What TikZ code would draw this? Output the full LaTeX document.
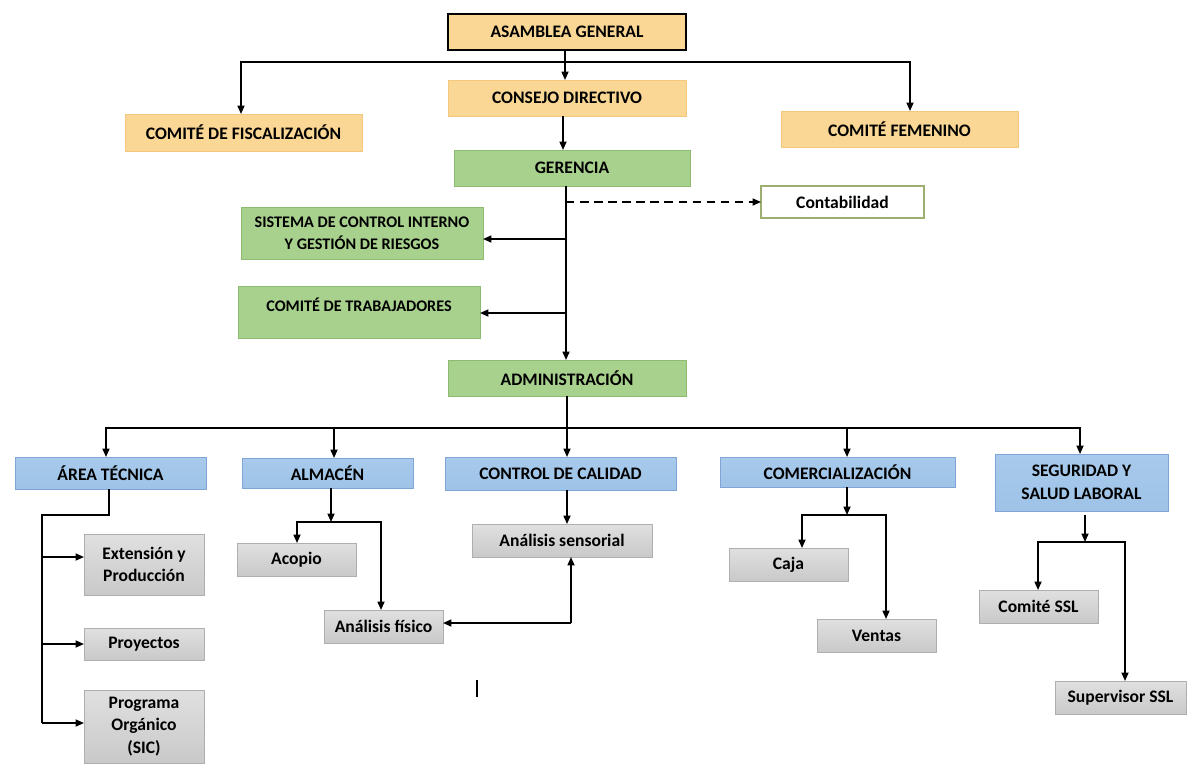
\documentclass[tikz,border=0pt]{standalone}
\usepackage{fontspec}
\setmainfont{Carlito}
\usetikzlibrary{arrows.meta,calc}
\definecolor{orF}{HTML}{FAD794}
\definecolor{orB}{HTML}{F3C87E}
\definecolor{grF}{HTML}{A9D18E}
\definecolor{grB}{HTML}{8DBB70}
\definecolor{blF}{HTML}{9DC3E6}
\definecolor{blT}{HTML}{A8CAEC}
\definecolor{blB}{HTML}{7FA6D6}
\definecolor{gyT}{HTML}{E0E0E0}
\definecolor{gyF}{HTML}{C9C9C9}
\definecolor{gyB}{HTML}{AFAFAF}
\definecolor{olB}{HTML}{9DAF6F}
\tikzset{
  x=0.025cm, y=-0.025cm,
  base/.style={rectangle, inner sep=0pt, outer sep=0pt, align=center,
    font=\fontsize{12.5}{16}\selectfont\bfseries, text=black},
  orbox/.style={base, fill=orF, draw=orB, line width=0.6pt},
  topbox/.style={base, fill=orF, draw=black, line width=1.4pt},
  grbox/.style={base, fill=grF, draw=grB, line width=0.6pt},
  smallgr/.style={grbox, font=\fontsize{11.5}{15.5}\selectfont\bfseries},
  whbox/.style={base, fill=white, draw=olB, line width=0.8pt},
  blbox/.style={base, top color=blT, bottom color=blF, draw=blB, line width=0.6pt},
  gybox/.style={base, top color=gyT, bottom color=gyF, draw=gyB, line width=0.6pt},
  ln/.style={draw, line width=1.1pt},
  arr/.style={draw, line width=1.1pt, -{Triangle[length=6pt,width=5pt]}},
}
\newcommand\bx[6]{\node[#1, minimum width={(#4-#2)*0.025cm}, minimum height={(#5-#3)*0.025cm}] (#6) at ({(#2+#4)/2},{(#3+#5)/2})}
\begin{document}
\begin{tikzpicture}
\useasboundingbox (0,0) rectangle (1200,778);
% top level
\bx{topbox}{448}{14}{686}{50}{asam}{ASAMBLEA GENERAL};
\bx{orbox}{448}{80}{686}{116}{cons}{CONSEJO DIRECTIVO};
\bx{orbox}{125}{114}{362}{151}{fisc}{COMITÉ DE FISCALIZACIÓN};
\bx{orbox}{781}{111}{1018}{147}{feme}{COMITÉ FEMENINO};
\bx{grbox}{454}{150}{690}{186}{gere}{GERENCIA};
\bx{whbox}{761}{186}{924}{218}{cont}{Contabilidad};
\bx{smallgr}{241}{207}{483}{259}{sci}{SISTEMA DE CONTROL INTERNO\\Y GESTIÓN DE RIESGOS};
\node[smallgr, minimum width={(480-238)*0.025cm}, minimum height={(338-286)*0.025cm}, text depth=11pt] (trab) at ({(238+480)/2},{(286+338)/2}) {COMITÉ DE TRABAJADORES};
\bx{grbox}{448}{360}{686}{396}{admi}{ADMINISTRACIÓN};
% areas
\bx{blbox}{15}{457}{206}{489}{area}{ÁREA TÉCNICA};
\bx{blbox}{242}{458}{413}{488}{alma}{ALMACÉN};
\bx{blbox}{445}{457}{676}{490}{cali}{CONTROL DE CALIDAD};
\bx{blbox}{720}{457}{955}{487}{come}{COMERCIALIZACIÓN};
\bx{blbox}{995}{454}{1168}{511}{segu}{SEGURIDAD Y\\SALUD LABORAL};
% sub units
\bx{gybox}{84}{534}{204}{595}{exte}{Extensión y\\Producción};
\bx{gybox}{84}{628}{204}{660}{proy}{Proyectos};
\bx{gybox}{84}{690}{204}{763}{prog}{Programa\\Orgánico\\(SIC)};
\bx{gybox}{237}{543}{356}{576}{acop}{Acopio};
\bx{gybox}{324}{610}{443}{643}{fisi}{Análisis físico};
\bx{gybox}{472}{524}{652}{557}{sens}{Análisis sensorial};
\bx{gybox}{729}{548}{848}{581}{caja}{Caja};
\bx{gybox}{817}{619}{936}{652}{vent}{Ventas};
\bx{gybox}{979}{590}{1098}{623}{cssl}{Comité SSL};
\bx{gybox}{1055}{681}{1186}{714}{supe}{Supervisor SSL};

% connectors top
\coordinate (b0) at (565,62);
\draw[arr] (asam.south -| 565,0) -- (cons.north -| 565,0);
\draw[arr] (b0) -| (fisc.north -| 241,0);
\draw[arr] (b0) -| (feme.north -| 910,0);
\draw[arr] (cons.south -| 563,0) -- (gere.north -| 563,0);
\draw[arr] (gere.south -| 566,0) -- (admi.north -| 566,0);
\draw[arr, dashed, dash pattern=on 6pt off 4pt] (cont.west -| 566,0) -- (cont.west);
\coordinate (s1) at (566,239);
\draw[arr] (s1) -- (sci.east |- s1);
\coordinate (s2) at (566,313);
\draw[arr] (s2) -- (trab.east |- s2);

% admin bus
\coordinate (b1) at (567,428);
\draw[ln] (admi.south -| 567,0) -- (b1);
\draw[arr] (b1) -- (cali.north -| 567,0);
\draw[arr] (b1) -| (area.north -| 106,0);
\draw[arr] (b1) -| (alma.north -| 334,0);
\draw[arr] (b1) -| (come.north -| 847,0);
\draw[arr] (b1) -| (segu.north -| 1080,0);

% area tecnica
\coordinate (t1) at (109,515);
\coordinate (t2) at (42,515);
\coordinate (t3) at (42,723);
\draw[ln] (area.south -| 109,0) -- (t1) -- (t2) -- (t3);
\coordinate (e1) at (42,557);
\draw[arr] (e1) -- (exte.west |- e1);
\draw[arr] (t2 |- proy.west) -- (proy.west);
\draw[arr] (t3) -- (prog.west |- t3);

% almacen
\coordinate (m1) at (331,522);
\draw[arr] (alma.south -| 331,0) -- (m1);
\draw[arr] (m1) -| (acop.north -| 297,0);
\draw[arr] (m1) -| (fisi.north -| 381,0);

% calidad
\draw[arr] (cali.south -| 567,0) -- (sens.north -| 567,0);
\coordinate (m2) at (571,623);
\draw[arr] (m2) -- (sens.south -| m2);
\draw[arr] (m2) -- (fisi.east |- m2);
\coordinate (k1) at (477,680);
\coordinate (k2) at (477,697);
\draw[ln] (k1) -- (k2);

% comercializacion
\coordinate (m3) at (847,515);
\draw[arr] (come.south -| 847,0) -- (m3);
\draw[arr] (m3) -| (caja.north -| 802,0);
\draw[arr] (m3) -| (vent.north -| 886,0);

% seguridad
\coordinate (m4) at (1085,542);
\draw[arr] ($(segu.south -| 1085,0)+(0,4)$) -- (m4);
\draw[arr] (m4) -| (cssl.north -| 1038,0);
\draw[arr] (m4) -| (supe.north -| 1125,0);
\end{tikzpicture}
\end{document}
